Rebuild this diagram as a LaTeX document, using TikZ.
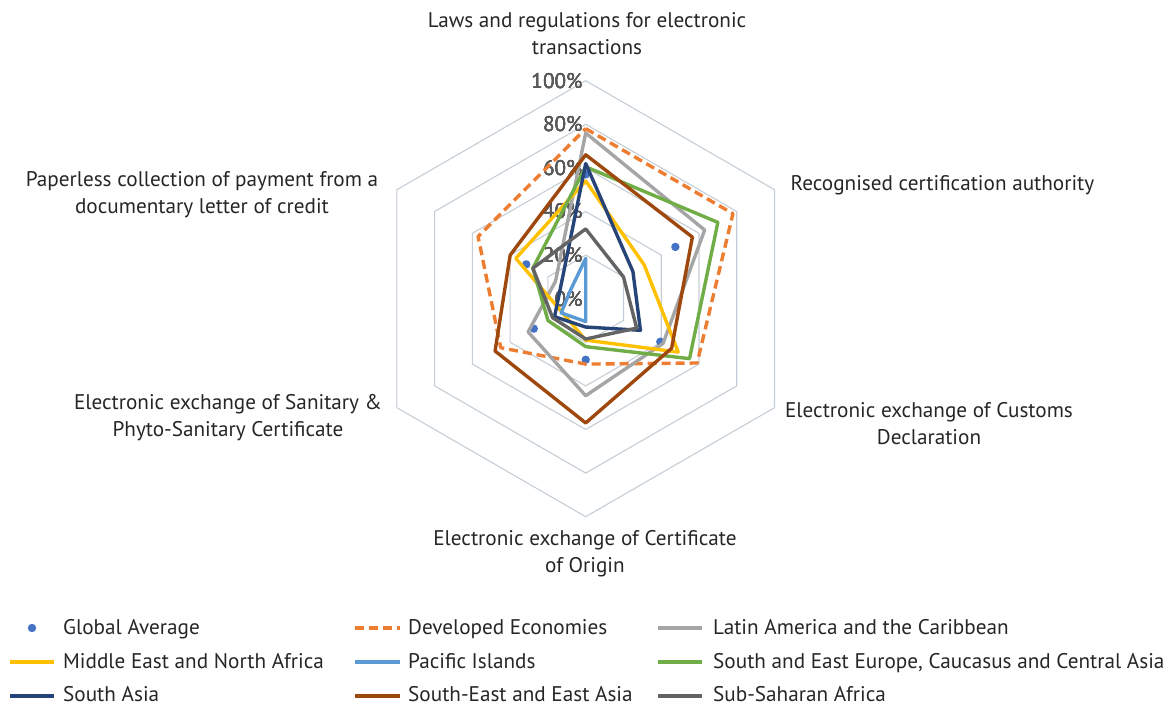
\documentclass[tikz,border=0pt]{standalone}
\usepackage{fontspec}
\setmainfont{PT Sans}
\definecolor{gridc}{HTML}{C5CED6}
\definecolor{tickc}{HTML}{595959}
\definecolor{txtc}{HTML}{262626}
\definecolor{cGA}{HTML}{4472C4}
\definecolor{cDev}{HTML}{ED7D31}
\definecolor{cLat}{HTML}{A5A5A5}
\definecolor{cME}{HTML}{FFC000}
\definecolor{cPac}{HTML}{5B9BD5}
\definecolor{cSEE}{HTML}{70AD47}
\definecolor{cSA}{HTML}{264478}
\definecolor{cSEA}{HTML}{9E480E}
\definecolor{cSSA}{HTML}{636363}
\newcommand\radarpoly[7]{\draw[#1] (90:{2.18*#2}) -- (30:{2.18*#3}) -- (-30:{2.18*#4}) -- (-90:{2.18*#5}) -- (210:{2.18*#6}) -- (150:{2.18*#7}) -- cycle;}
\begin{document}
\begin{tikzpicture}[x=1pt,y=1pt,
  lbl/.style={font=\fontsize{21.2}{27}\selectfont, text=txtc, align=center, inner sep=0pt},
  legtxt/.style={font=\fontsize{21.2}{24}\selectfont, text=txtc, anchor=base west, inner sep=0pt, text depth=0pt},
  ringline/.style={draw=gridc, line width=1.1pt},
  ticklbl/.style={font=\fontsize{21.2}{24}\selectfont, text=tickc, anchor=east, inner sep=0pt},
  ser/.style={line width=3.4pt, line join=round},
  devline/.style={ser, draw=cDev, dash pattern=on 9pt off 5pt},
  gadot/.style={fill=cGA, draw=none}
]
\useasboundingbox (0,0) rectangle (1176,706);
\coordinate (O) at (585.7,407.3);
\begin{scope}[shift={(O)}]
  % grid
  \foreach \v in {20,40,60,80,100}
    \radarpoly{ringline}{\v}{\v}{\v}{\v}{\v}{\v}
  % tick labels
  \foreach \v in {0,20,40,60,80,100}
    \node[ticklbl] (tick\v) at (-3,{2.18*\v}) {\v\%};
  % series
  \foreach \a/\v in {90/57,30/47.5,-30/39.5,-90/28,210/27.5,150/31.5}
    \fill[gadot] (\a:{2.18*\v}) circle (4.2);
  \radarpoly{devline}{78}{78}{59}{30}{45}{57}
  \radarpoly{ser,draw=cLat}{76}{63}{41}{44.5}{30.5}{16}
  \radarpoly{ser,draw=cME}{54}{31}{49}{19}{12.5}{37}
  \radarpoly{ser,draw=cPac}{18.5}{0}{0}{10.5}{13}{8}
  \radarpoly{ser,draw=cSEE}{60.5}{70}{55}{22}{20}{28}
  \radarpoly{ser,draw=cSA}{62}{25}{29}{13}{16.5}{13}
  \radarpoly{ser,draw=cSEA}{66}{56.5}{45.5}{57}{48}{40}
  \radarpoly{ser,draw=cSSA}{32}{20}{27}{18.5}{17.5}{28}
\end{scope}
% axis labels
\node[lbl] (axLaws) at (587,672) {Laws and regulations for electronic\\transactions};
\node[lbl] (axRec) at (942.5,521) {Recognised certification authority};
\node[lbl] (axCus) at (929,282) {Electronic exchange of Customs\\Declaration};
\node[lbl] (axOri) at (585,152) {Electronic exchange of Certificate\\of Origin};
\node[lbl] (axSPS) at (228,288.5) {Electronic exchange of Sanitary \&\\Phyto-Sanitary Certificate};
\node[lbl] (axPay) at (202,511) {Paperless collection of payment from a\\documentary letter of credit};
% legend
\fill[gadot] (32,78) circle (4.2);
\node[legtxt] (lgGA) at (63,71) {Global Average};
\draw[devline] (355,78) -- (400,78);
\node[legtxt] (lgDev) at (408,71) {Developed Economies};
\draw[ser,draw=cLat] (658,78) -- (702,78);
\node[legtxt] (lgLat) at (713,71) {Latin America and the Caribbean};
\draw[ser,draw=cME] (10,44) -- (54,44);
\node[legtxt] (lgME) at (63,37) {Middle East and North Africa};
\draw[ser,draw=cPac] (355,44) -- (400,44);
\node[legtxt] (lgPac) at (408,37) {Pacific Islands};
\draw[ser,draw=cSEE] (658,44) -- (702,44);
\node[legtxt] (lgSEE) at (713,37) {South and East Europe, Caucasus and Central Asia};
\draw[ser,draw=cSA] (10,10) -- (54,10);
\node[legtxt] (lgSA) at (63,4) {South Asia};
\draw[ser,draw=cSEA] (355,10) -- (400,10);
\node[legtxt] (lgSEA) at (408,4) {South-East and East Asia};
\draw[ser,draw=cSSA] (658,10) -- (702,10);
\node[legtxt] (lgSSA) at (713,4) {Sub-Saharan Africa};
\end{tikzpicture}
\end{document}
